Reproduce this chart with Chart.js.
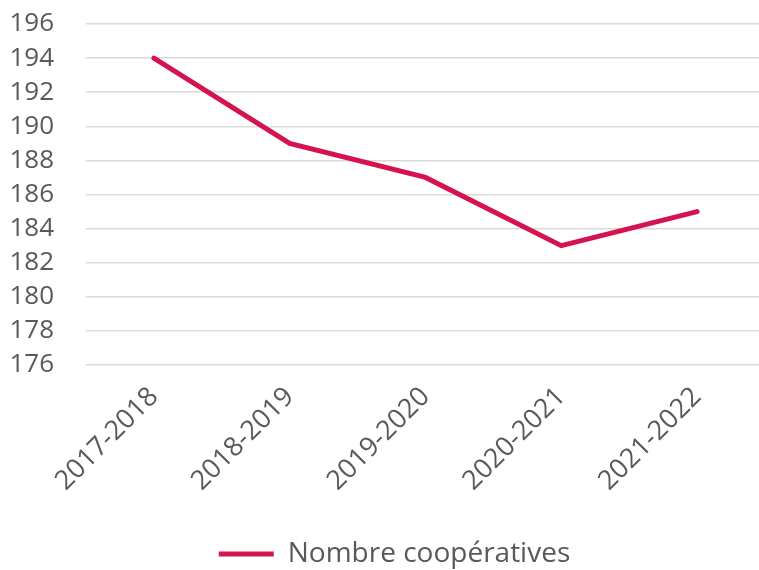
<!DOCTYPE html>
<html>
<head>
<meta charset="utf-8">
<script src="https://cdn.jsdelivr.net/npm/chart.js@4"></script>
<style>
  html, body { margin: 0; padding: 0; background: #fff; overflow: hidden; }
  #wrap { width: 766px; height: 578px; }
</style>
</head>
<body>
<div id="wrap"><canvas id="coopChart"></canvas></div>
<script>
const years = ["2017-2018", "2018-2019", "2019-2020", "2020-2021", "2021-2022"]
const coopCounts = [194, 189, 187, 183, 185]
const seriesName = "Nombre coopératives"
const yMin = 176
const yMax = 196
const yStep = 2

const lineColor = '#d5134f'
const textColor = '#595959'
const fontFamily = "'Source Sans Pro', 'Open Sans', 'Noto Sans', sans-serif"

Chart.defaults.font.family = fontFamily
Chart.defaults.color = textColor

// nudge the legend a bit to the right, like the original
const legendShift = {
  id: 'legendShift',
  afterLayout(chart) {
    if (chart.legend) {
      chart.legend.left += 12
      chart.legend.right += 12
    }
  }
}

const ctx = document.getElementById('coopChart').getContext('2d')

new Chart(ctx, {
  type: 'line',
  data: {
    labels: years,
    datasets: [{
      label: seriesName,
      data: coopCounts,
      borderColor: lineColor,
      backgroundColor: lineColor,
      borderWidth: 5,
      pointRadius: 0,
      pointStyle: 'line',
      tension: 0,
      borderCapStyle: 'round'
    }]
  },
  options: {
    responsive: true,
    maintainAspectRatio: false,
    animation: false,
    layout: {
      padding: { top: 24, right: 1, left: 0, bottom: 0 }
    },
    scales: {
      x: {
        offset: true,
        grid: { display: false },
        border: { display: false },
        ticks: {
          font: { size: 27 },
          color: textColor,
          autoSkip: false,
          minRotation: 45,
          maxRotation: 45,
          padding: 8
        },
        afterFit: function (scale) { scale.height = 171 }
      },
      y: {
        min: yMin,
        max: yMax,
        grid: { color: '#d9d9d9', lineWidth: 1.5, drawTicks: false },
        border: { display: false },
        ticks: {
          stepSize: yStep,
          autoSkip: false,
          font: { size: 26 },
          color: textColor,
          padding: 32
        },
        afterFit: function (scale) {
          scale.width = 86
          scale.paddingTop = 0
          scale.paddingBottom = 0
        }
      }
    },
    plugins: {
      legend: {
        position: 'bottom',
        labels: {
          usePointStyle: true,
          pointStyleWidth: 55,
          boxHeight: 6,
          font: { size: 28 },
          color: textColor,
          padding: 4
        }
      },
      tooltip: { enabled: false }
    }
  },
  plugins: [legendShift]
})
</script>
</body>
</html>
